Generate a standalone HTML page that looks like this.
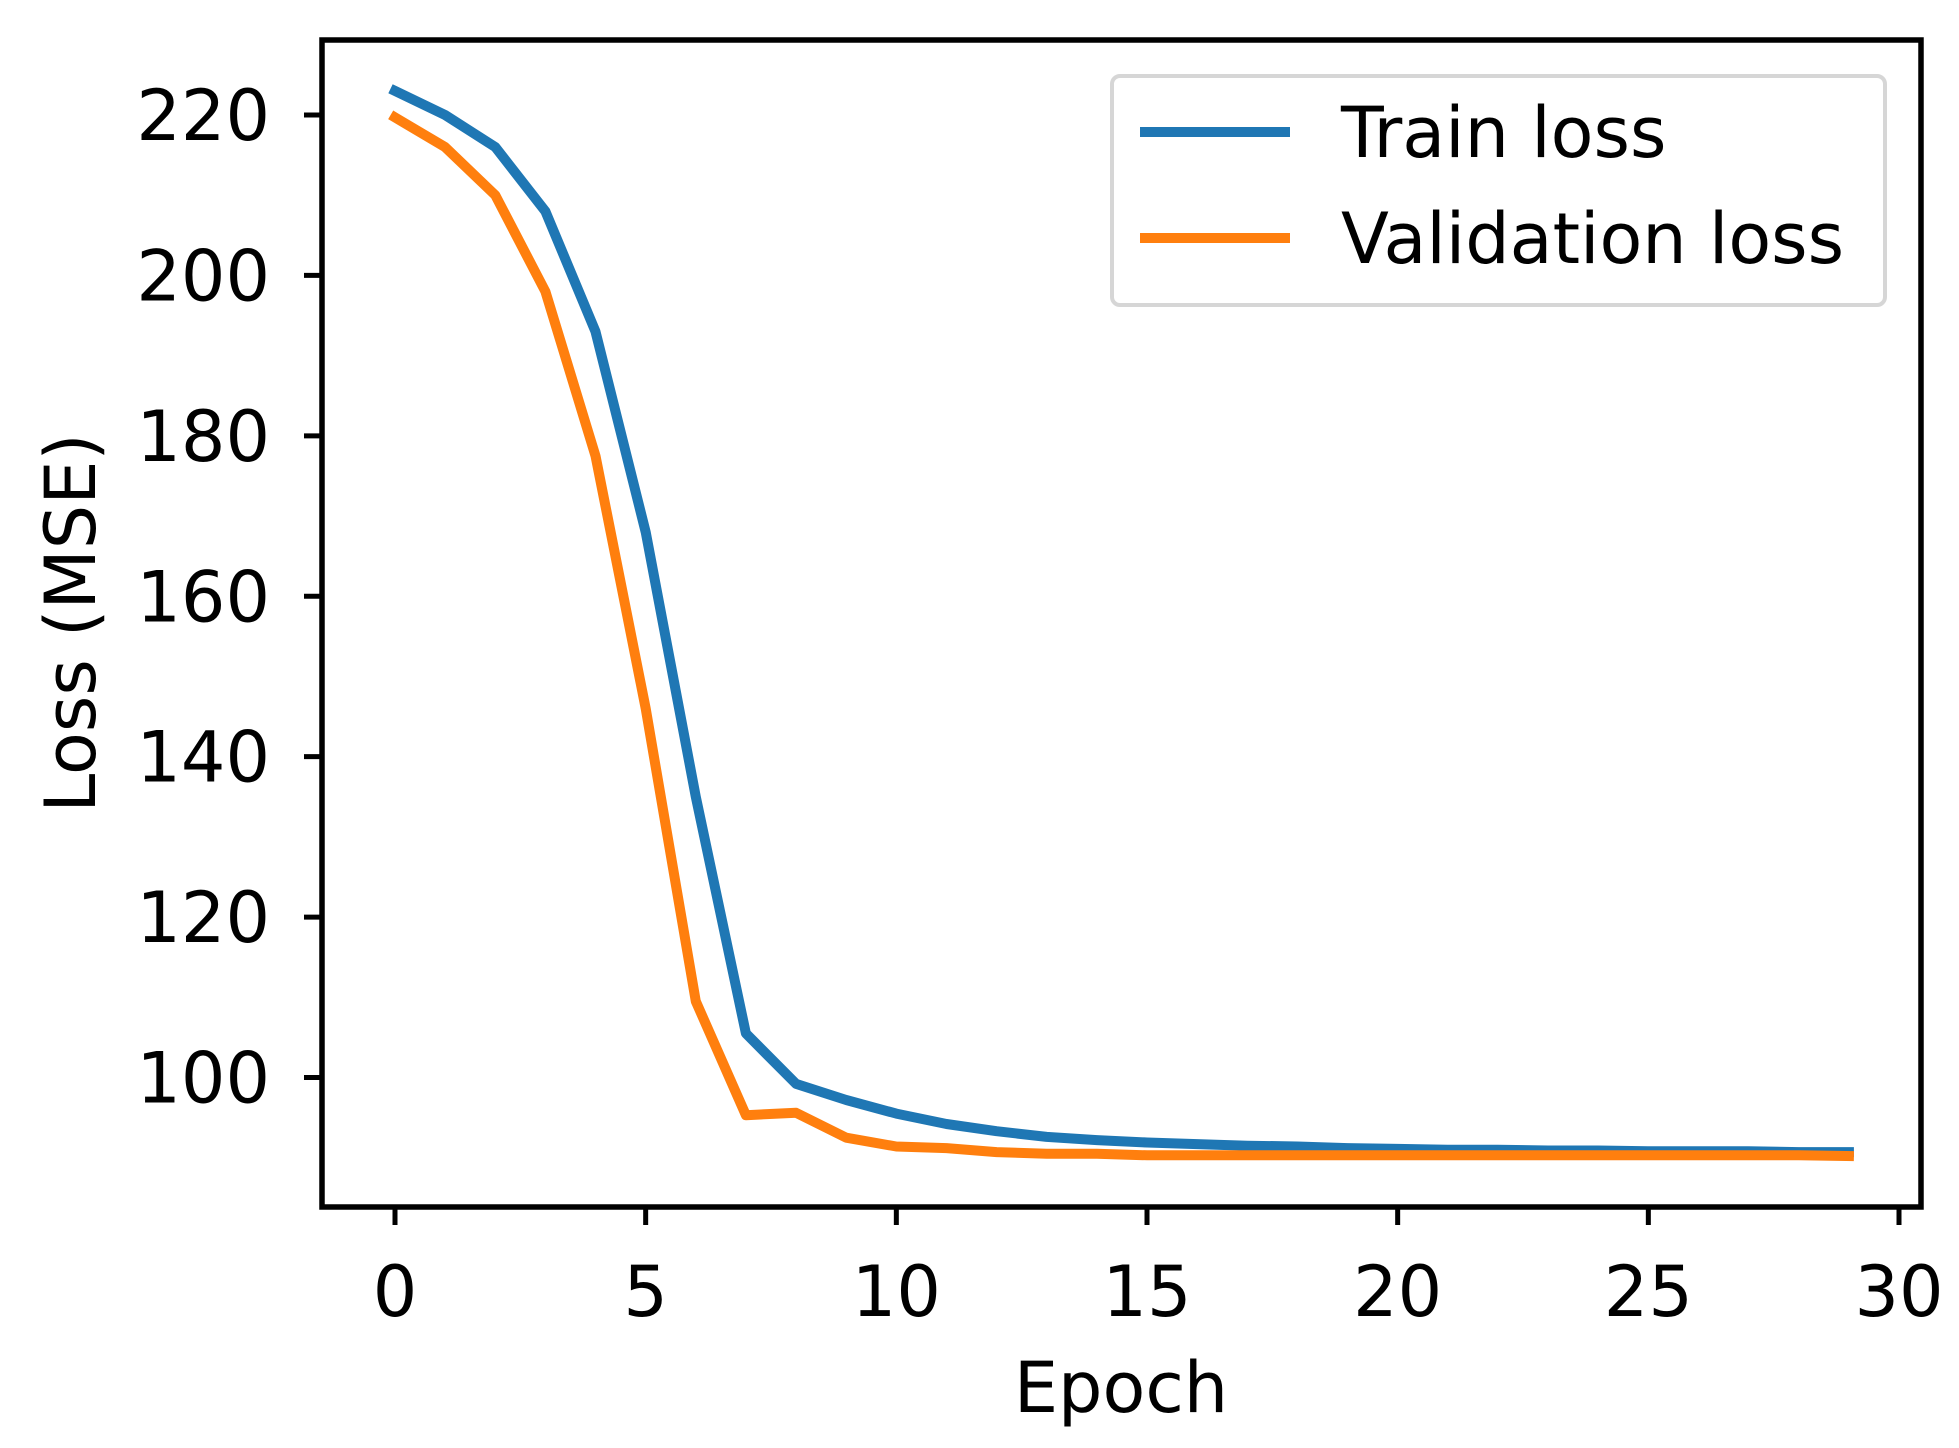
<!DOCTYPE html>
<html><head><meta charset="utf-8"><style>
html,body{margin:0;padding:0;background:#fff;}
svg{display:block;font-family:"DejaVu Sans","Liberation Sans",sans-serif;}
</style></head><body>
<svg id="chart" width="1959" height="1448" viewBox="0 0 1959 1448">
<rect x="0" y="0" width="1959" height="1448" fill="#fff"/>
<g id="series"></g>
<g id="axes"></g>
</svg>
<script>
const epochs = [0,1,2,3,4,5,6,7,8,9,10,11,12,13,14,15,16,17,18,19,20,21,22,23,24,25,26,27,28,29];
const trainLoss = [223,220,216,208,193,168,135,105.5,99.2,97.2,95.5,94.2,93.3,92.6,92.2,91.9,91.7,91.5,91.4,91.2,91.1,91.0,91.0,90.9,90.9,90.8,90.8,90.8,90.7,90.7];
const valLoss = [219.7,216,210,198,177.5,146,109.5,95.3,95.6,92.5,91.4,91.2,90.7,90.5,90.5,90.3,90.3,90.3,90.3,90.3,90.3,90.3,90.3,90.3,90.3,90.3,90.3,90.3,90.3,90.2];
const xTicks = [0,5,10,15,20,25,30];
const yTicks = [100,120,140,160,180,200,220];

const NS='http://www.w3.org/2000/svg';
const L=322,R=1921,T=40,B=1207;
function xs(v){return 395+(v-0)*(1899-395)/30;}
function ys(v){return 115+(220-v)*(1077.5-115)/120;}
function mk(tag,attrs,parent){const e=document.createElementNS(NS,tag);for(const k in attrs)e.setAttribute(k,attrs[k]);parent.appendChild(e);return e;}
const S=document.getElementById('series'), A=document.getElementById('axes');

function line(vals,color,name){
  const d=vals.map((v,i)=>(i?'L':'M')+xs(epochs[i]).toFixed(1)+','+ys(v).toFixed(1)).join(' ');
  const p=mk('path',{d:d,fill:'none',stroke:color,'stroke-width':10,'stroke-linejoin':'round','stroke-linecap':'square'},S);
  
  
}
line(trainLoss,'#1f77b4','train-loss-line');
line(valLoss,'#ff7f0e','validation-loss-line');

const frame=mk('rect',{x:L,y:T,width:R-L,height:B-T,fill:'none',stroke:'#000','stroke-width':5.5},A);



xTicks.forEach(t=>{
  const x=xs(t);
  const tk=mk('line',{x1:x,x2:x,y1:B,y2:B+18,stroke:'#000','stroke-width':5},A);
  
  
  const tx=mk('text',{x:x,y:1316,'text-anchor':'middle','font-size':70,fill:'#000'},A);
  tx.textContent=t;
  
  
});
yTicks.forEach(t=>{
  const y=ys(t);
  const tk=mk('line',{x1:L-18,x2:L,y1:y,y2:y,stroke:'#000','stroke-width':5},A);
  
  
  const tx=mk('text',{x:270,y:y+25,'text-anchor':'end','font-size':70,fill:'#000'},A);
  tx.textContent=t;
  
  
});
const xl=mk('text',{x:1121,y:1412,'text-anchor':'middle','font-size':70,fill:'#000'},A);
xl.textContent='Epoch';


const yl=mk('text',{x:0,y:0,'text-anchor':'middle','font-size':70,fill:'#000',transform:'translate(95,623) rotate(-90)'},A);
yl.textContent='Loss (MSE)';



const lg=mk('g',{},A);


mk('rect',{x:1112,y:76,width:773,height:229,rx:8,fill:'#fff',stroke:'#d6d6d6','stroke-width':4,'fill-opacity':0.8},lg);
[['Train loss','#1f77b4',132],['Validation loss','#ff7f0e',238]].forEach(([lab,c,y])=>{
  const e=mk('g',{},lg);
  
  
  mk('line',{x1:1140,x2:1290,y1:y,y2:y,stroke:c,'stroke-width':10},e);
  const t=mk('text',{x:1341,y:y+25,'font-size':70,fill:'#000'},e);
  t.textContent=lab;
});
</script>
</body></html>
